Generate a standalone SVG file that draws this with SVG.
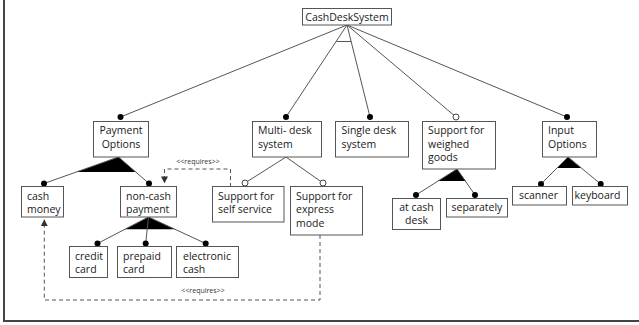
<svg xmlns="http://www.w3.org/2000/svg" width="639" height="325" viewBox="0 0 639 325">
  <defs>
    <style>
      .box { fill: #fff; stroke: #555; stroke-width: 1; }
      .lbl { font-family: "Open Sans", "Noto Sans", sans-serif; font-size: 10.5px; fill: #1a1a1a; }
      .mid { text-anchor: middle; }
      .req { font-family: "Open Sans", "Noto Sans", sans-serif; font-size: 7px; fill: #333; text-anchor: middle; }
      .edge { stroke: #555; stroke-width: 1; fill: none; }
      .dash { stroke: #555; stroke-width: 1; fill: none; stroke-dasharray: 4 3; }
      .mand { fill: #000; }
      .opt { fill: #fff; stroke: #444; stroke-width: 1; }
      .grp { fill: #000; }
    </style>
    <marker id="arrow" viewBox="0 0 8 8" refX="7" refY="4" markerWidth="7" markerHeight="7" markerUnits="userSpaceOnUse" orient="auto">
      <path d="M0,0 L8,4 L0,8 Z" fill="#333"/>
    </marker>
  </defs>

  <!-- frame -->
  <line x1="4" y1="0" x2="4" y2="321" stroke="#444" stroke-width="2"/>
  <line x1="3" y1="321" x2="639" y2="321" stroke="#444" stroke-width="2"/>

  <!-- connectors -->
  <g id="connectors">
    <!-- root to children -->
    <line class="edge" x1="347" y1="25" x2="120.5" y2="117"/>
    <line class="edge" x1="347" y1="25" x2="286" y2="117"/>
    <line class="edge" x1="347" y1="25" x2="370" y2="117"/>
    <line class="edge" x1="347" y1="25" x2="456" y2="117"/>
    <line class="edge" x1="347" y1="25" x2="567" y2="117"/>
    <!-- alternative arc between Multi-desk and Single desk -->
    <line class="edge" x1="336.5" y1="41.5" x2="351.2" y2="41.5"/>

    <!-- Payment Options or-group -->
    <polygon class="grp" points="118.5,157 76.3,172 135.8,172"/>
    <line class="edge" x1="118.5" y1="157" x2="44" y2="183.5"/>
    <line class="edge" x1="118.5" y1="157" x2="149" y2="183.5"/>

    <!-- Multi-desk optional children -->
    <line class="edge" x1="286" y1="157" x2="245" y2="183"/>
    <line class="edge" x1="286" y1="157" x2="323" y2="183"/>

    <!-- non-cash payment or-group -->
    <polygon class="grp" points="148.5,217 124.8,229.3 175,229.3"/>
    <line class="edge" x1="148.5" y1="217" x2="97.5" y2="243.5"/>
    <line class="edge" x1="148.5" y1="217" x2="145.7" y2="243.5"/>
    <line class="edge" x1="148.5" y1="217" x2="205.7" y2="243.5"/>

    <!-- weighed goods or-group -->
    <polygon class="grp" points="457,169 438,181 465.8,181"/>
    <line class="edge" x1="457" y1="169" x2="416" y2="195"/>
    <line class="edge" x1="457" y1="169" x2="475" y2="195"/>

    <!-- Input Options or-group -->
    <polygon class="grp" points="568,157 557,168 581.3,168"/>
    <line class="edge" x1="568" y1="157" x2="541" y2="184"/>
    <line class="edge" x1="568" y1="157" x2="600.7" y2="184"/>

    <!-- requires constraints -->
    <polyline class="dash" points="230.5,187 230.5,169 164.5,169 164.5,182.5" marker-end="url(#arrow)"/>
    <text class="req" x="198" y="164">&lt;&lt;requires&gt;&gt;</text>
    <polyline class="dash" points="320,235 320,300 44.3,300 44.3,220" marker-end="url(#arrow)"/>
    <text class="req" x="203" y="293">&lt;&lt;requires&gt;&gt;</text>

    <!-- mandatory / optional end markers -->
    <circle class="mand" cx="120.5" cy="117" r="3"/>
    <circle class="mand" cx="286" cy="117" r="3"/>
    <circle class="mand" cx="370" cy="117" r="3"/>
    <circle class="opt" cx="456" cy="117" r="3"/>
    <circle class="mand" cx="567" cy="117" r="3"/>
    <circle class="mand" cx="44" cy="183.5" r="3"/>
    <circle class="mand" cx="149" cy="183.5" r="3"/>
    <circle class="opt" cx="245" cy="183" r="3"/>
    <circle class="opt" cx="323" cy="183" r="3"/>
    <circle class="mand" cx="97.5" cy="243.5" r="3"/>
    <circle class="mand" cx="145.7" cy="243.5" r="3"/>
    <circle class="mand" cx="205.7" cy="243.5" r="3"/>
    <circle class="mand" cx="416" cy="195" r="3"/>
    <circle class="mand" cx="475" cy="195" r="3"/>
    <circle class="mand" cx="541" cy="184" r="3"/>
    <circle class="mand" cx="600.7" cy="184" r="3"/>
  </g>

  <!-- features -->
  <g id="cashDeskSystem">
    <rect class="box" x="302.5" y="8.5" width="89" height="16.5"/>
    <text class="lbl mid" x="347" y="21">CashDeskSystem</text>
  </g>
  <g id="paymentOptions">
    <rect class="box" x="93.5" y="121.5" width="55" height="35.5"/>
    <text class="lbl mid" x="121" y="134">Payment</text>
    <text class="lbl mid" x="121" y="147.5">Options</text>
  </g>
  <g id="multiDesk">
    <rect class="box" x="252.5" y="121.5" width="69" height="35.5"/>
    <text class="lbl" x="258" y="134">Multi- desk</text>
    <text class="lbl" x="258" y="147.5">system</text>
  </g>
  <g id="singleDesk">
    <rect class="box" x="335.5" y="121.5" width="73" height="35.5"/>
    <text class="lbl" x="341.5" y="134">Single desk</text>
    <text class="lbl" x="341.5" y="147.5">system</text>
  </g>
  <g id="weighedGoods">
    <rect class="box" x="422.5" y="121.5" width="73" height="47.5"/>
    <text class="lbl" x="428" y="134">Support for</text>
    <text class="lbl" x="428" y="147.5">weighed</text>
    <text class="lbl" x="428" y="161">goods</text>
  </g>
  <g id="inputOptions">
    <rect class="box" x="542.5" y="121.5" width="54" height="35.5"/>
    <text class="lbl" x="548" y="134">Input</text>
    <text class="lbl" x="548" y="147.5">Options</text>
  </g>
  <g id="cashMoney">
    <rect class="box" x="21.5" y="186.5" width="42" height="30.5"/>
    <text class="lbl" x="27" y="199.5">cash</text>
    <text class="lbl" x="27" y="213">money</text>
  </g>
  <g id="nonCashPayment">
    <rect class="box" x="120.5" y="186.5" width="56" height="30.5"/>
    <text class="lbl" x="126" y="199.5">non-cash</text>
    <text class="lbl" x="126" y="213">payment</text>
  </g>
  <g id="selfService">
    <rect class="box" x="212.5" y="186.5" width="71.5" height="35.5"/>
    <text class="lbl" x="218" y="199.5">Support for</text>
    <text class="lbl" x="218" y="213">self service</text>
  </g>
  <g id="expressMode">
    <rect class="box" x="290.5" y="186.5" width="72" height="48.5"/>
    <text class="lbl" x="296" y="199.5">Support for</text>
    <text class="lbl" x="296" y="213">express</text>
    <text class="lbl" x="296" y="226.5">mode</text>
  </g>
  <g id="creditCard">
    <rect class="box" x="69.5" y="246.5" width="38" height="31"/>
    <text class="lbl" x="75" y="259.5">credit</text>
    <text class="lbl" x="75" y="273">card</text>
  </g>
  <g id="prepaidCard">
    <rect class="box" x="117.5" y="246.5" width="54" height="31"/>
    <text class="lbl" x="123" y="259.5">prepaid</text>
    <text class="lbl" x="123" y="273">card</text>
  </g>
  <g id="electronicCash">
    <rect class="box" x="176.5" y="246.5" width="62" height="31"/>
    <text class="lbl" x="183" y="259.5">electronic</text>
    <text class="lbl" x="183" y="273">cash</text>
  </g>
  <g id="atCashDesk">
    <rect class="box" x="392.5" y="198.5" width="48" height="31"/>
    <text class="lbl mid" x="416.5" y="210.5">at cash</text>
    <text class="lbl mid" x="416.5" y="224">desk</text>
  </g>
  <g id="separately">
    <rect class="box" x="446.5" y="198.5" width="61" height="18.5"/>
    <text class="lbl" x="451.5" y="211">separately</text>
  </g>
  <g id="scanner">
    <rect class="box" x="512.5" y="186.5" width="54" height="18.5"/>
    <text class="lbl" x="519" y="199">scanner</text>
  </g>
  <g id="keyboard">
    <rect class="box" x="572.5" y="186.5" width="55" height="18.5"/>
    <text class="lbl" x="574.5" y="199">keyboard</text>
  </g>
</svg>
